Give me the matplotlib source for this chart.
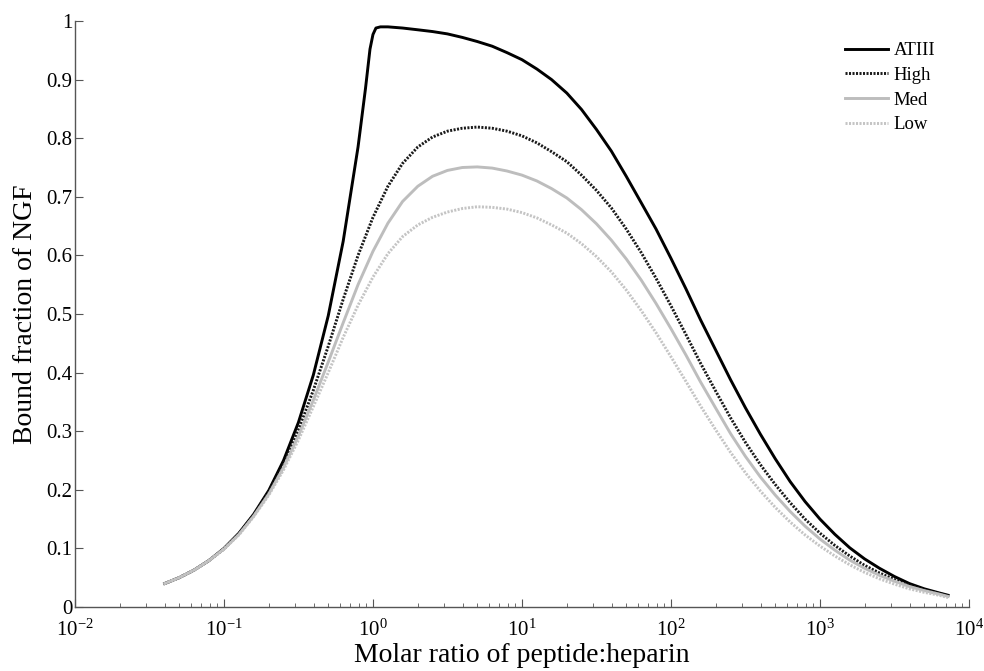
import matplotlib
matplotlib.use('Agg')
import matplotlib.pyplot as plt
from matplotlib.ticker import FixedLocator, LogLocator

plt.rcParams['font.family'] = ['Liberation Serif', 'DejaVu Serif']
plt.rcParams['mathtext.fontset'] = 'custom'
plt.rcParams['mathtext.rm'] = 'Liberation Serif'
plt.rcParams['mathtext.it'] = 'Liberation Serif:italic'

# values
x_ratio = [0.04, 0.05, 0.063, 0.079, 0.1, 0.126, 0.158, 0.2, 0.251, 0.316, 0.398, 0.501, 0.631,
           0.794, 1, 1.26, 1.58, 2, 2.51, 3.16, 3.98, 5.01, 6.31, 7.94, 10, 12.6, 15.8, 20,
           25.1, 31.6, 39.8, 50.1, 63.1, 79.4, 100, 126, 158, 200, 251, 316, 398, 501, 631,
           794, 1000, 1259, 1585, 1995, 2512, 3162, 3981, 5012, 6310, 7244]

x_atiii = [0.04, 0.05, 0.063, 0.079, 0.1, 0.126, 0.158, 0.2, 0.251, 0.316, 0.398, 0.501, 0.631,
           0.794, 0.891, 0.955, 1, 1.047, 1.122, 1.26, 1.58, 2, 2.51, 3.16, 3.98, 5.01, 6.31,
           7.94, 10, 12.6, 15.8, 20, 25.1, 31.6, 39.8, 50.1, 63.1, 79.4, 100, 126, 158, 200,
           251, 316, 398, 501, 631, 794, 1000, 1259, 1585, 1995, 2512, 3162, 3981, 5012, 6310,
           7244]
y_atiii = [0.040, 0.050, 0.063, 0.079, 0.100, 0.126, 0.158, 0.199, 0.250, 0.315, 0.396, 0.497,
           0.624, 0.785, 0.885, 0.952, 0.977, 0.988, 0.990, 0.990, 0.988, 0.985, 0.982, 0.978,
           0.972, 0.965, 0.957, 0.946, 0.934, 0.918, 0.900, 0.877, 0.849, 0.815, 0.778, 0.735,
           0.690, 0.645, 0.595, 0.543, 0.490, 0.438, 0.388, 0.340, 0.295, 0.253, 0.214, 0.180,
           0.150, 0.124, 0.101, 0.082, 0.066, 0.052, 0.040, 0.031, 0.024, 0.020]

y_high = [0.040, 0.050, 0.063, 0.079, 0.099, 0.125, 0.157, 0.196, 0.243, 0.302,
          0.370, 0.445, 0.525, 0.600, 0.665, 0.718, 0.757, 0.785, 0.802, 0.812,
          0.817, 0.819, 0.817, 0.812, 0.804, 0.792, 0.777, 0.760, 0.737, 0.711,
          0.681, 0.645, 0.605, 0.561, 0.514, 0.465, 0.416, 0.368, 0.323, 0.281,
          0.243, 0.209, 0.178, 0.150, 0.126, 0.105, 0.087, 0.071, 0.058, 0.047,
          0.037, 0.029, 0.023, 0.019]

y_med = [0.040, 0.050, 0.063, 0.079, 0.099, 0.124, 0.155, 0.193, 0.238, 0.292,
         0.353, 0.418, 0.485, 0.550, 0.607, 0.655, 0.692, 0.718, 0.735, 0.745,
         0.750, 0.751, 0.749, 0.744, 0.737, 0.727, 0.714, 0.698, 0.678, 0.654,
         0.626, 0.594, 0.558, 0.518, 0.475, 0.430, 0.384, 0.339, 0.296, 0.257,
         0.222, 0.191, 0.163, 0.138, 0.116, 0.097, 0.080, 0.066, 0.054, 0.044,
         0.035, 0.028, 0.022, 0.018]

y_low = [0.040, 0.050, 0.063, 0.079, 0.099, 0.123, 0.154, 0.191, 0.234, 0.285,
         0.342, 0.400, 0.460, 0.515, 0.563, 0.603, 0.632, 0.652, 0.665, 0.674,
         0.680, 0.683, 0.682, 0.679, 0.673, 0.664, 0.652, 0.638, 0.620, 0.598,
         0.572, 0.541, 0.506, 0.468, 0.427, 0.385, 0.343, 0.302, 0.264, 0.229,
         0.198, 0.170, 0.145, 0.123, 0.104, 0.087, 0.072, 0.059, 0.048, 0.039,
         0.031, 0.025, 0.020, 0.016]

x_ticks = [1e-2, 1e-1, 1e0, 1e1, 1e2, 1e3, 1e4]
x_ticklabels = ['$10^{-2}$', '$10^{-1}$', '$10^{0}$', '$10^{1}$', '$10^{2}$', '$10^{3}$', '$10^{4}$']
y_ticks = [0, 0.1, 0.2, 0.3, 0.4, 0.5, 0.6, 0.7, 0.8, 0.9, 1]
y_ticklabels = ['0', '0.1', '0.2', '0.3', '0.4', '0.5', '0.6', '0.7', '0.8', '0.9', '1']

fig = plt.figure(figsize=(9.84, 6.71), dpi=100)
ax = fig.add_axes([0.0762, 0.0954, 0.9085, 0.8733])

ax.plot(x_atiii, y_atiii, color='black', lw=2.1, label='ATIII')
ax.plot(x_ratio, y_high, color='#1a1a1a', lw=2.1, linestyle=(0, (0.7, 0.5)), label='High')
ax.plot(x_ratio, y_med, color='#bdbdbd', lw=2.1, label='Med')
ax.plot(x_ratio, y_low, color='#c4c4c4', lw=2.1, linestyle=(0, (0.7, 0.5)), label='Low')

ax.set_xscale('log')
ax.set_xlim(1e-2, 1e4)
ax.set_ylim(0, 1)
ax.xaxis.set_major_locator(FixedLocator(x_ticks))
ax.set_xticklabels(x_ticklabels)
ax.xaxis.set_minor_locator(LogLocator(base=10, subs=range(2, 10), numticks=100))
ax.set_yticks(y_ticks)
ax.set_yticklabels(y_ticklabels)

for side in ['top', 'right']:
    ax.spines[side].set_visible(False)
for side in ['left', 'bottom']:
    ax.spines[side].set_color('#555555')
    ax.spines[side].set_linewidth(1.0)

ax.tick_params(axis='both', which='both', direction='in', color='#555555', labelsize=15)
ax.tick_params(axis='both', which='major', length=6)
ax.tick_params(axis='both', which='minor', length=3)
ax.tick_params(axis='x', which='major', pad=9)
ax.tick_params(axis='y', which='major', pad=2)

ax.set_xlabel('Molar ratio of peptide:heparin', fontsize=20, labelpad=2)
ax.set_ylabel('Bound fraction of NGF', fontsize=20, labelpad=6)

ax.legend(loc='upper right', bbox_to_anchor=(0.975, 0.983), frameon=False, fontsize=13.5,
          handlelength=2.3, handletextpad=0.3, labelspacing=0.4, borderaxespad=0.2)

plt.savefig('out.png', dpi=100)
plt.close()
